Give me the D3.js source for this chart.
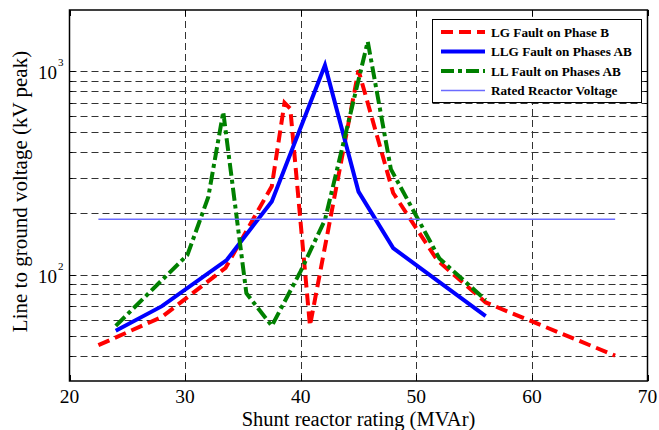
<!DOCTYPE html>
<html>
<head>
<meta charset="utf-8">
<script src="https://cdn.jsdelivr.net/npm/d3@7"></script>
<style>
  body { margin: 0; background: #fff; }
</style>
</head>
<body>
<div id="chart"></div>
<script>
// Shunt reactor rating vs line-to-ground overvoltage

// LG fault on phase B
const xLG = [22.5, 28, 33.5, 37.5, 38.6, 39.1, 40.8, 45, 48, 51.8, 56, 67.2];
const yLG = [45, 62, 108, 272, 700, 655, 56, 1010, 252, 118, 73, 40];
// LLG fault on phases AB
const xLLG = [24, 28, 33.6, 37.5, 42.1, 45, 48, 56];
const yLLG = [53, 70, 118, 229, 1070, 256, 135, 62.5];
// LL fault on phases AB
const xLL = [24, 30.2, 32, 33.3, 35.3, 37.5, 40, 42.1, 45.8, 47.8, 52, 56];
const yLL = [56, 125, 240, 630, 81, 56, 104, 186, 1400, 330, 120, 75];
// rated reactor voltage
const xRated = [22.5, 67.2];
const ratedKV = 187;

const xTicks = [20, 30, 40, 50, 60, 70];
const yMajor = [100, 1000];
const yMinor = [40, 50, 60, 70, 80, 90, 200, 300, 400, 500, 600, 700, 800, 900];

const seriesNames = ["LG Fault on Phase B", "LLG Fault on Phases AB", "LL Fault on Phases AB", "Rated Reactor Voltage"];

const width = 659, height = 430;
const pLeft = 69.5, pRight = 647.5, pTop = 10, pBottom = 381;

const svg = d3.select("#chart").append("svg")
    .attr("width", width)
    .attr("height", height)
    .attr("font-family", "'Liberation Serif', 'Times New Roman', serif");

const x = d3.scaleLinear().domain([20, 70]).range([pLeft, pRight]);
const y = d3.scaleLog().domain([30, 2000]).range([pBottom, pTop]);

// grid
const grid = svg.append("g")
    .attr("stroke", "#333")
    .attr("stroke-width", 1)
    .attr("stroke-dasharray", "7,4");

grid.selectAll(".hg")
    .data(yMajor.concat(yMinor))
    .enter().append("line")
    .attr("x1", pLeft).attr("x2", pRight)
    .attr("y1", d => Math.round(y(d)) + 0.5)
    .attr("y2", d => Math.round(y(d)) + 0.5);

grid.selectAll(".vg")
    .data(xTicks.slice(1, -1))
    .enter().append("line")
    .attr("y1", pTop).attr("y2", pBottom)
    .attr("x1", d => Math.round(x(d)) + 0.5)
    .attr("x2", d => Math.round(x(d)) + 0.5);

// ticks (inward, both sides)
const ticks = svg.append("g").attr("stroke", "#000").attr("stroke-width", 1);
xTicks.forEach(t => {
    const px = Math.round(x(t)) + 0.5;
    ticks.append("line").attr("x1", px).attr("x2", px).attr("y1", pBottom).attr("y2", pBottom - 6);
    ticks.append("line").attr("x1", px).attr("x2", px).attr("y1", pTop).attr("y2", pTop + 6);
});
yMajor.concat(yMinor).forEach(t => {
    const py = Math.round(y(t)) + 0.5;
    const len = yMajor.includes(t) ? 6 : 3;
    ticks.append("line").attr("x1", pLeft).attr("x2", pLeft + len).attr("y1", py).attr("y2", py);
    ticks.append("line").attr("x1", pRight).attr("x2", pRight - len).attr("y1", py).attr("y2", py);
});

// series
const line = d3.line().x(d => x(d[0])).y(d => y(d[1]));
const zip = (a, b) => a.map((v, i) => [v, b[i]]);

const styles = [
    { color: "#ff0000", width: 4, dash: "12,6" },
    { color: "#0000ff", width: 4, dash: null },
    { color: "#008000", width: 4, dash: "13,4,4,4" },
    { color: "#6b6bff", width: 1.5, dash: null }
];
const dataSets = [
    zip(xLG, yLG),
    zip(xLLG, yLLG),
    zip(xLL, yLL),
    xRated.map(v => [v, ratedKV])
];

svg.append("g")
    .selectAll("path")
    .data(dataSets)
    .enter().append("path")
    .attr("d", line)
    .attr("fill", "none")
    .attr("stroke", (d, i) => styles[i].color)
    .attr("stroke-width", (d, i) => styles[i].width)
    .attr("stroke-dasharray", (d, i) => styles[i].dash)
    .attr("stroke-linejoin", "miter");

// frame
svg.append("rect")
    .attr("x", pLeft).attr("y", pTop)
    .attr("width", pRight - pLeft).attr("height", pBottom - pTop)
    .attr("fill", "none")
    .attr("stroke", "#000")
    .attr("stroke-width", 1.5);

// tick labels
svg.append("g")
    .attr("font-size", 19.5)
    .attr("text-anchor", "middle")
    .selectAll("text")
    .data(xTicks)
    .enter().append("text")
    .attr("x", d => x(d))
    .attr("y", pBottom + 21.5)
    .text(d => d);

const yLab = svg.append("g").attr("font-size", 19);
yMajor.forEach(v => {
    const t = yLab.append("text")
        .attr("x", 38)
        .attr("y", y(v) + 8);
    t.append("tspan").text("10");
    t.append("tspan")
        .attr("font-size", 11)
        .attr("dx", 1)
        .attr("dy", -13)
        .text(Math.round(Math.log10(v)));
});

// axis titles
svg.append("text")
    .attr("x", (pLeft + pRight) / 2)
    .attr("y", 426)
    .attr("text-anchor", "middle")
    .attr("font-size", 20.5)
    .text("Shunt reactor rating (MVAr)");

svg.append("text")
    .attr("transform", `translate(27,${(pTop + pBottom) / 2 - 4})rotate(-90)`)
    .attr("text-anchor", "middle")
    .attr("font-size", 21)
    .text("Line to ground voltage (kV peak)");

// legend
const legend = svg.append("g");
legend.append("rect")
    .attr("x", 432.5).attr("y", 19.5)
    .attr("width", 209).attr("height", 83)
    .attr("fill", "#fff")
    .attr("stroke", "#000")
    .attr("stroke-width", 1);

const rows = legend.selectAll(".row")
    .data(seriesNames)
    .enter().append("g")
    .attr("transform", (d, i) => `translate(0,${32 + i * 19.5})`);

rows.append("line")
    .attr("x1", 441).attr("x2", 485)
    .attr("stroke", (d, i) => styles[i].color)
    .attr("stroke-width", (d, i) => styles[i].width)
    .attr("stroke-dasharray", (d, i) => styles[i].dash);

rows.append("text")
    .attr("x", 491)
    .attr("dy", "0.35em")
    .attr("font-size", 13.2)
    .attr("font-weight", "bold")
    .text(d => d);
</script>
</body>
</html>
